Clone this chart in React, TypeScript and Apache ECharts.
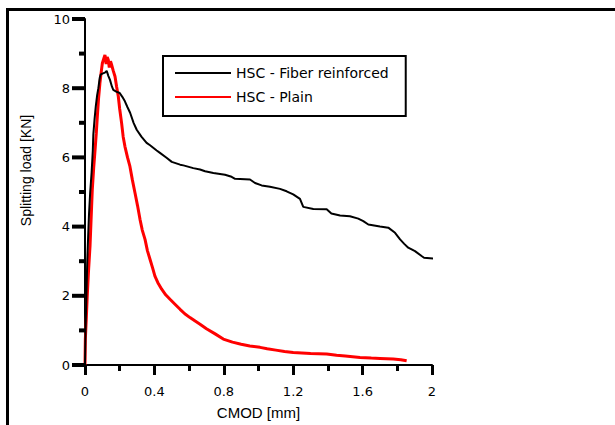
import React, { useEffect, useRef } from "react";
import * as echarts from "echarts";

const seriesNames = ["HSC - Fiber reinforced", "HSC - Plain"];
const xAxisTitle = "CMOD [mm]";
const yAxisTitle = "Splitting load [KN]";

// HSC - Fiber reinforced: [CMOD mm, load kN]
const fiberData: [number, number][] = [
  [0, 0], [0.003, 1.0], [0.008, 2.0], [0.013, 3.0], [0.018, 3.7], [0.023, 4.35],
  [0.03, 5.0], [0.038, 5.56], [0.045, 6.2], [0.048, 6.66], [0.055, 7.1], [0.062, 7.47],
  [0.07, 7.8], [0.077, 8.0], [0.085, 8.3], [0.09, 8.39], [0.1, 8.42], [0.115, 8.45],
  [0.125, 8.5], [0.135, 8.35], [0.144, 8.24], [0.155, 8.05], [0.163, 7.95], [0.18, 7.9],
  [0.2, 7.86], [0.215, 7.75], [0.23, 7.62], [0.245, 7.45], [0.26, 7.29], [0.28, 7.0],
  [0.298, 6.8], [0.325, 6.6], [0.355, 6.42], [0.375, 6.35], [0.413, 6.2], [0.432, 6.13],
  [0.47, 5.99], [0.5, 5.87], [0.548, 5.79], [0.567, 5.77], [0.624, 5.69], [0.663, 5.65],
  [0.692, 5.6], [0.74, 5.55], [0.807, 5.5], [0.84, 5.45], [0.865, 5.38], [0.951, 5.36],
  [0.98, 5.26], [1.018, 5.19], [1.066, 5.15], [1.124, 5.09], [1.162, 5.02], [1.2, 4.93],
  [1.239, 4.8], [1.258, 4.57], [1.316, 4.51], [1.393, 4.5], [1.42, 4.38], [1.47, 4.32],
  [1.527, 4.3], [1.575, 4.23], [1.604, 4.16], [1.633, 4.06], [1.7, 4.0], [1.748, 3.97],
  [1.787, 3.82], [1.816, 3.63], [1.84, 3.5], [1.863, 3.39], [1.902, 3.29], [1.94, 3.15],
  [1.954, 3.1], [2.017, 3.07], [2.065, 3.03],
];

// HSC - Plain: [CMOD mm, load kN]
const plainData: [number, number][] = [
  [0, 0], [0.002, 0.75], [0.008, 1.4], [0.013, 2.0], [0.02, 2.7], [0.029, 3.44],
  [0.035, 4.2], [0.042, 5.07], [0.05, 5.7], [0.058, 6.22], [0.065, 6.7], [0.071, 7.18],
  [0.078, 7.7], [0.086, 8.15], [0.093, 8.45], [0.1, 8.72], [0.108, 8.85], [0.115, 8.96],
  [0.122, 8.7], [0.128, 8.9], [0.134, 8.82], [0.14, 8.6], [0.147, 8.78], [0.154, 8.67],
  [0.163, 8.5], [0.173, 8.34], [0.182, 8.05], [0.192, 7.76], [0.2, 7.4], [0.211, 6.99],
  [0.22, 6.6], [0.23, 6.32], [0.245, 6.0], [0.259, 5.74], [0.273, 5.35], [0.288, 4.98],
  [0.303, 4.6], [0.317, 4.21], [0.33, 3.9], [0.346, 3.63], [0.36, 3.3], [0.375, 3.05],
  [0.39, 2.8], [0.403, 2.57], [0.42, 2.38], [0.442, 2.19], [0.465, 2.03], [0.49, 1.9],
  [0.52, 1.75], [0.548, 1.61], [0.575, 1.48], [0.605, 1.37], [0.635, 1.27], [0.663, 1.18],
  [0.7, 1.05], [0.75, 0.9], [0.797, 0.75], [0.85, 0.66], [0.9, 0.6], [0.95, 0.55],
  [1.009, 0.51], [1.05, 0.47], [1.1, 0.43], [1.15, 0.39], [1.2, 0.36], [1.25, 0.35],
  [1.3, 0.33], [1.393, 0.32], [1.45, 0.28], [1.5, 0.26], [1.585, 0.22], [1.65, 0.2],
  [1.7, 0.19], [1.777, 0.17], [1.82, 0.15], [1.854, 0.12],
];

const xTicks = { min: 0, max: 2, interval: 0.4 };
const yTicks = { min: 0, max: 10, interval: 2 };
// y tick marks: [value, 1 = major / 0 = minor]
const yTickMarks: [number, number][] = [
  [0, 1], [1, 0], [2, 1], [3, 0], [4, 1], [5, 0],
  [6, 1], [7, 0], [8, 1], [9, 0], [10, 1],
];

export default function App() {
  const ref = useRef<HTMLDivElement>(null);

  useEffect(() => {
    if (!ref.current) return;
    const chart = echarts.init(ref.current, null, { renderer: "svg" });
    const tickFont = { fontFamily: "DejaVu Sans", fontSize: 13, color: "#000" };
    chart.setOption({
      animation: false,
      backgroundColor: "#fff",
      grid: { left: 85, right: 183, top: 19, bottom: 59 },
      graphic: [
        { type: "rect", shape: { x: 6, y: 8, width: 609, height: 3 }, style: { fill: "#000" } },
        { type: "rect", shape: { x: 6, y: 8, width: 3, height: 417 }, style: { fill: "#000" } },
      ],
      legend: {
        orient: "vertical",
        left: 163,
        top: 56,
        padding: [10, 17, 12, 11],
        itemWidth: 56,
        itemHeight: 14,
        itemGap: 10,
        borderColor: "#000",
        borderWidth: 2,
        borderRadius: 0,
        itemStyle: { opacity: 0 },
        textStyle: { fontFamily: "DejaVu Sans", fontSize: 14, color: "#000" },
        data: seriesNames,
      },
      xAxis: {
        type: "value",
        min: xTicks.min,
        max: xTicks.max,
        interval: xTicks.interval,
        name: xAxisTitle,
        nameLocation: "middle",
        nameGap: 40,
        nameTextStyle: { fontFamily: "Liberation Sans", fontSize: 15, color: "#000" },
        axisLine: { show: true, lineStyle: { color: "#000", width: 2 } },
        axisTick: { show: true, inside: false, length: 10, lineStyle: { color: "#000", width: 3 } },
        minorTick: { show: true, splitNumber: 2, length: 6, lineStyle: { color: "#000", width: 3 } },
        axisLabel: { show: true, ...tickFont, margin: 20 },
        splitLine: { show: false },
        minorSplitLine: { show: false },
      },
      yAxis: {
        type: "value",
        min: yTicks.min,
        max: yTicks.max,
        interval: yTicks.interval,
        name: yAxisTitle,
        nameLocation: "middle",
        nameGap: 52,
        nameTextStyle: {
          fontFamily: "Liberation Sans",
          fontSize: 14,
          color: "#000",
          padding: [0, 0, 0, 43],
        },
        axisLine: { show: true, lineStyle: { color: "#000", width: 2 } },
        axisTick: { show: false },
        axisLabel: { show: true, ...tickFont, margin: 15 },
        splitLine: { show: false },
      },
      series: [
        {
          name: seriesNames[0],
          type: "line",
          data: fiberData,
          symbol: "none",
          clip: false,
          lineStyle: { color: "#000", width: 2 },
          itemStyle: { color: "#000" },
          z: 3,
        },
        {
          name: seriesNames[1],
          type: "line",
          data: plainData,
          symbol: "none",
          clip: false,
          lineStyle: { color: "#ff0000", width: 3 },
          itemStyle: { color: "#ff0000" },
          z: 2,
        },
        {
          name: "yTicks",
          type: "custom",
          silent: true,
          clip: false,
          data: yTickMarks.map(([v, m]) => [0, v, m]),
          encode: { x: 0, y: 1 },
          renderItem: (_params: any, api: any) => {
            const v = api.value(1);
            const major = api.value(2) === 1;
            const p = api.coord([0, v]);
            const len = major ? 13 : 6;
            return {
              type: "rect",
              shape: { x: p[0] - len, y: p[1] - 2, width: len, height: 4 },
              style: { fill: "#000" },
            };
          },
          z: 10,
        },
      ],
    });
    return () => chart.dispose();
  }, []);

  return (
    <div
      ref={ref}
      style={{ position: "fixed", left: 0, top: 0, width: 615, height: 425, background: "#fff" }}
    />
  );
}
